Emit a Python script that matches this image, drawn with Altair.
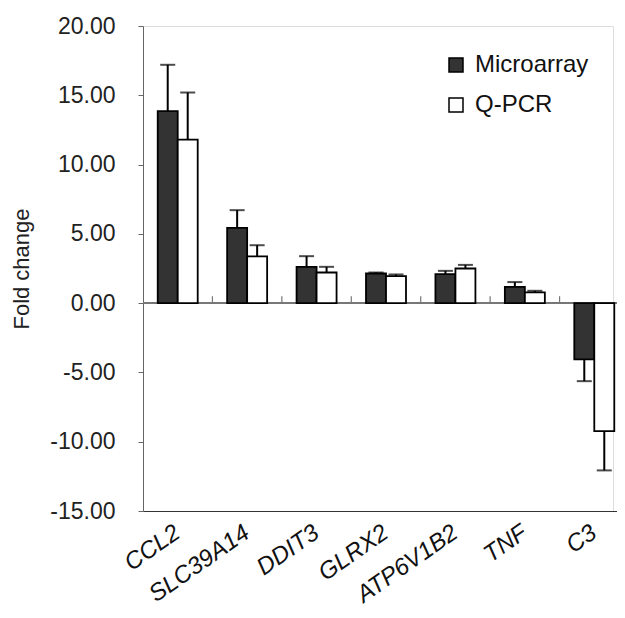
import altair as alt
import pandas as pd

genes = ["CCL2", "SLC39A14", "DDIT3", "GLRX2", "ATP6V1B2", "TNF", "C3"]
series = ["Microarray", "Q-PCR"]
microarray = [13.85, 5.43, 2.62, 2.14, 2.09, 1.18, -4.06]
microarray_err = [3.35, 1.28, 0.77, 0.07, 0.24, 0.34, 1.57]
qpcr = [11.80, 3.37, 2.21, 1.95, 2.50, 0.77, -9.24]
qpcr_err = [3.40, 0.81, 0.41, 0.12, 0.26, 0.12, 2.83]
y_ticks = [-15, -10, -5, 0, 5, 10, 15, 20]

rows = []
for g, v, e in zip(genes, microarray, microarray_err):
    rows.append({"gene": g, "series": "Microarray", "value": v, "err": e})
for g, v, e in zip(genes, qpcr, qpcr_err):
    rows.append({"gene": g, "series": "Q-PCR", "value": v, "err": e})
df = pd.DataFrame(rows)
ticks_df = pd.DataFrame({"gene": genes[1:]})

FONT = "Liberation Sans"
RANGE_W = 486
P_IN = 0.424
P_OUT = 0.212
step = RANGE_W / 7.0

xscale = alt.Scale(domain=genes, range=[0, RANGE_W], paddingInner=P_IN, paddingOuter=P_OUT)
yscale = alt.Scale(domain=[-15, 20], nice=False, zero=False)
off_scale = alt.Scale(domain=series, paddingInner=0, paddingOuter=0)

x_enc = alt.X("gene:N", scale=xscale, sort=genes,
              axis=alt.Axis(title=None, labelAngle=-35, labelAlign="right", labelBaseline="middle",
                            labelFontSize=24, labelFontStyle="italic", labelFont=FONT, labelColor="#111",
                            ticks=False, labelPadding=19, domainColor="#333", domainWidth=1.2))
y_enc = alt.Y("value:Q", scale=yscale,
              axis=alt.Axis(title="Fold change", values=y_ticks,
                            labelExpr="replace(format(datum.value, '.2f'), '\u2212', '-')",
                            labelFontSize=23,
                            labelFont=FONT, labelColor="#222", tickSize=5, tickColor="#666",
                            domainColor="#666", labelPadding=23, grid=False, titleFont=FONT,
                            titleFontSize=22, titleFontWeight="normal", titleColor="#222",
                            titleX=-122, titleBaseline="middle"))

base = alt.Chart(df)

bars = base.mark_bar(stroke="black", strokeWidth=1.8).encode(
    x=x_enc,
    xOffset=alt.XOffset("series:N", scale=off_scale, sort=series),
    y=y_enc,
    fill=alt.Fill("series:N", sort=series,
                  scale=alt.Scale(domain=series, range=["#333333", "#ffffff"]),
                  legend=alt.Legend(title=None, orient="none", legendX=301, legendY=27,
                                    symbolType="square", symbolSize=196, symbolStrokeColor="black",
                                    symbolStrokeWidth=1.5, labelFontSize=24, labelFont=FONT,
                                    labelColor="#111", rowPadding=16, labelOffset=7)),
)

err_base = base.transform_calculate(
    end="datum.value >= 0 ? datum.value + datum.err : datum.value - datum.err"
)
err_lines = err_base.mark_rule(color="black", strokeWidth=2).encode(
    x=alt.X("gene:N", scale=xscale, sort=genes),
    xOffset=alt.XOffset("series:N", scale=off_scale, sort=series),
    y=alt.Y("value:Q", scale=yscale),
    y2="end:Q",
)
err_caps = err_base.mark_tick(color="black", thickness=2, size=15, orient="horizontal").encode(
    x=alt.X("gene:N", scale=xscale, sort=genes),
    xOffset=alt.XOffset("series:N", scale=off_scale, sort=series),
    y=alt.Y("end:Q", scale=yscale),
)

zero_line = alt.Chart(df).mark_rule(color="#777", strokeWidth=1.2).encode(
    y=alt.Y(datum=0, scale=yscale), x=alt.value(0), x2=alt.value(RANGE_W)
)

cat_ticks = alt.Chart(ticks_df).mark_rule(color="#777", strokeWidth=1.2, xOffset=-step * P_OUT).encode(
    x=alt.X("gene:N", scale=xscale, sort=genes, bandPosition=0),
    y=alt.Y(datum=0, scale=yscale),
    y2=alt.Y2(datum=0.5),
)

chart = alt.layer(zero_line, cat_ticks, bars, err_lines, err_caps).properties(
    width=470, height=485,
    autosize=alt.AutoSizeParams(type="none"),
    padding={"left": 135, "top": 18, "right": 4, "bottom": 98},
).configure_view(stroke=None).configure(font=FONT)

chart.save("out.html", embed_options={"renderer": "svg", "actions": False})
